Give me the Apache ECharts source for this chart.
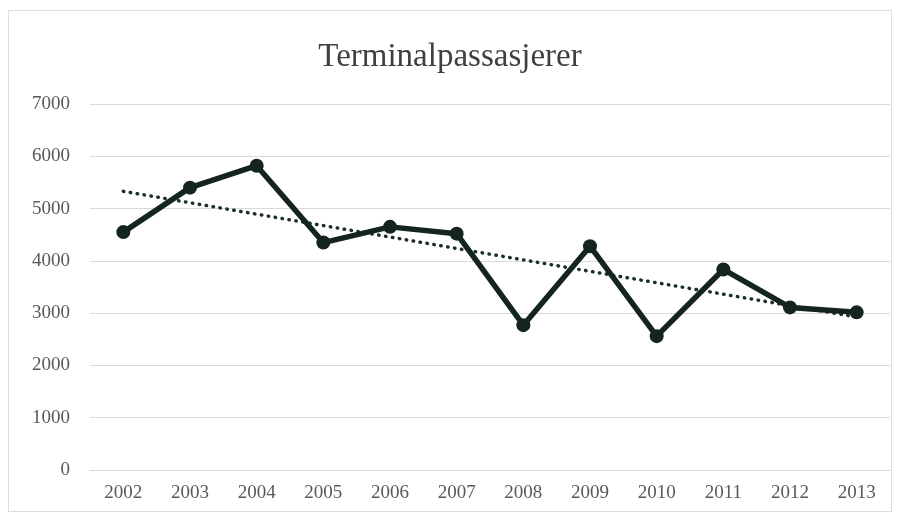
<!DOCTYPE html>
<html>
<head>
<meta charset="utf-8">
<script src="https://cdn.jsdelivr.net/npm/echarts@6/dist/echarts.min.js"></script>
<style>
    html, body { margin: 0; padding: 0; background: #fff; }
    #chart { position: absolute; left: 8px; top: 10px; width: 884px; height: 502px; border: 1px solid #dcdcdc; box-sizing: border-box; }
</style>
</head>
<body>
<div id="chart"></div>
<script>
// år
const years = ["2002", "2003", "2004", "2005", "2006", "2007", "2008", "2009", "2010", "2011", "2012", "2013"];
// terminalpassasjerer
const passengers = [4550, 5400, 5820, 4350, 4650, 4520, 2770, 4280, 2560, 3835, 3110, 3015];
// trendlinje, start og slutt
const trend = [5330, null, null, null, null, null, null, null, null, null, null, 2925];

const chart = echarts.init(document.getElementById("chart"));
const serif = "Liberation Serif";

chart.setOption({
    animation: false,
    title: {
        text: "Terminalpassasjerer",
        left: "center",
        top: 25,
        textStyle: { fontFamily: serif, fontSize: 33, fontWeight: "normal", color: "#404040" }
    },
    grid: { left: 81, right: 1, top: 93, bottom: 41 },
    xAxis: {
        type: "category",
        data: years,
        axisLine: { lineStyle: { color: "#d9d9d9" } },
        axisTick: { show: false },
        axisLabel: { fontFamily: serif, fontSize: 19, color: "#595959", margin: 14 }
    },
    yAxis: {
        type: "value",
        min: 0,
        max: 7000,
        interval: 1000,
        axisLabel: { fontFamily: serif, fontSize: 19, color: "#595959", margin: 20, formatter: v => String(v) },
        splitLine: { lineStyle: { color: "#d9d9d9" } }
    },
    series: [
        {
            type: "line",
            data: trend,
            connectNulls: true,
            showSymbol: false,
            lineStyle: { color: "#1c2f29", width: 3.5, type: [0.5, 6.5], cap: "round" },
            z: 1
        },
        {
            type: "line",
            data: passengers,
            symbol: "circle",
            symbolSize: 14,
            itemStyle: { color: "#14251f" },
            lineStyle: { color: "#14251f", width: 5.5 },
            z: 2
        }
    ]
});
</script>
</body>
</html>
